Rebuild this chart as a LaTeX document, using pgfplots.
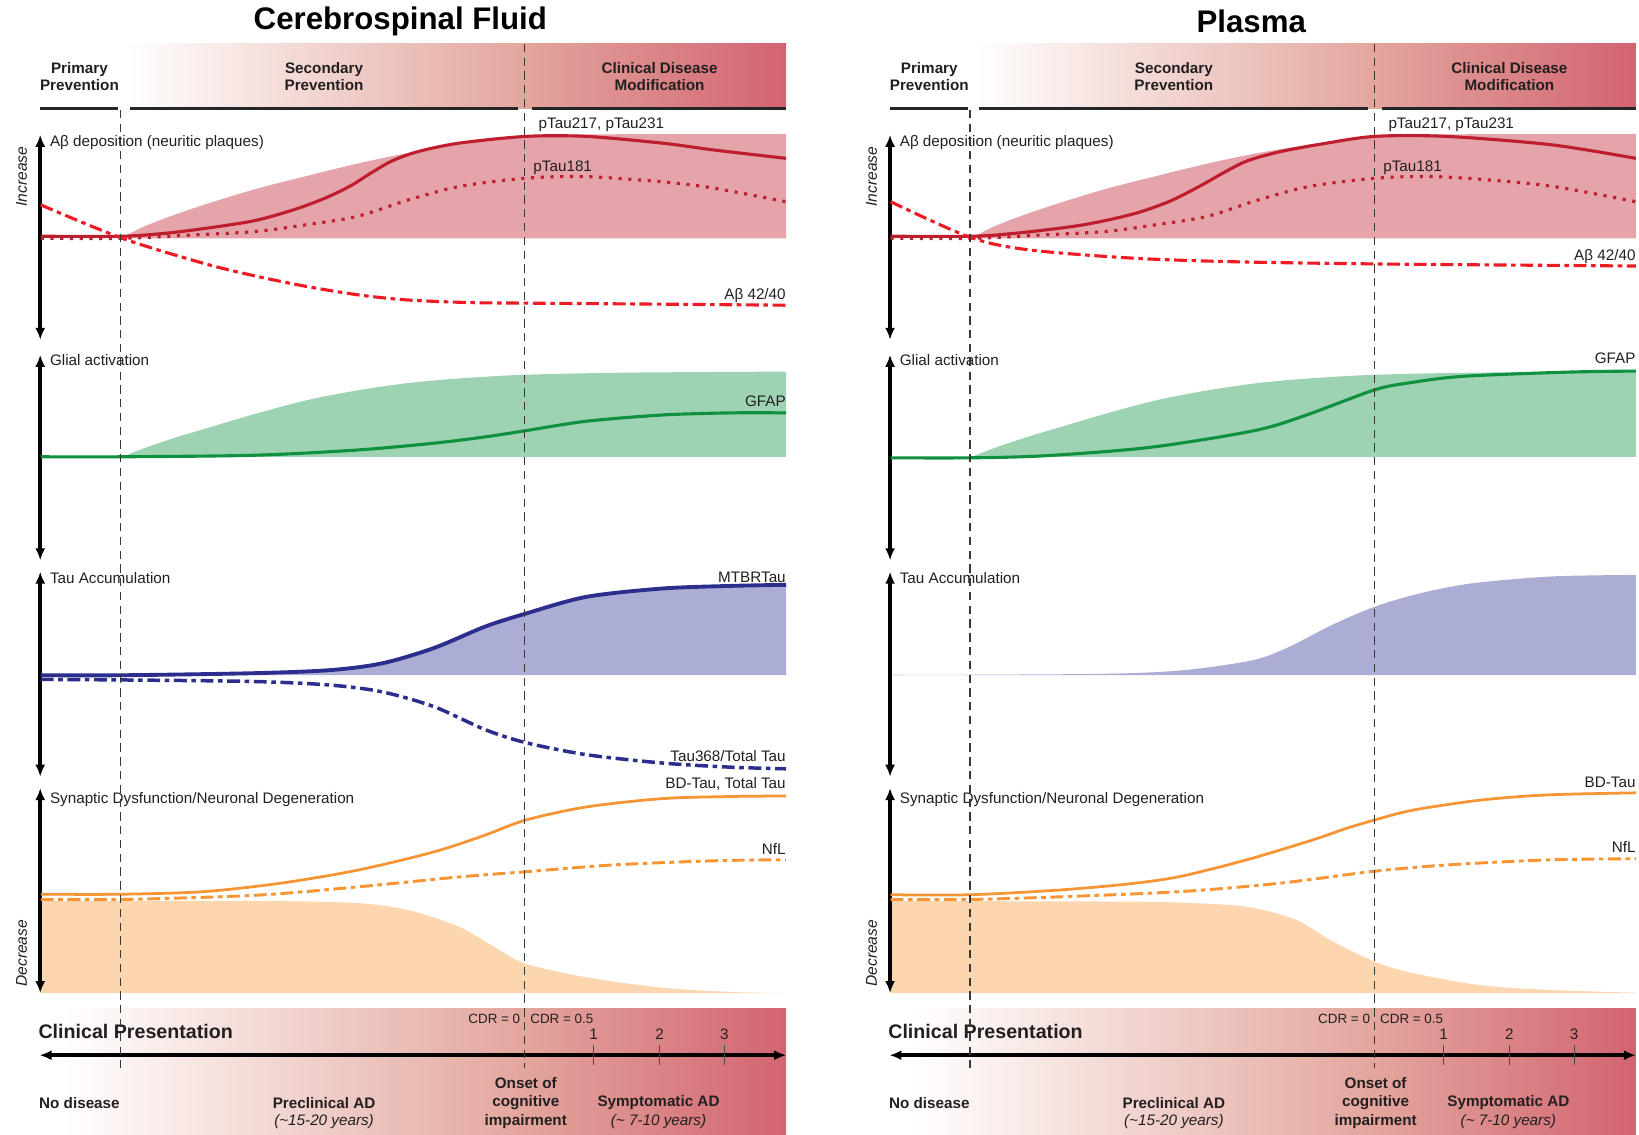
\documentclass[border=0pt]{standalone}
\usepackage{fontspec}
\setmainfont{Liberation Sans}
\usepackage{pgfplots}
\pgfplotsset{compat=1.18}
\usepgfplotslibrary{fillbetween}
\usetikzlibrary{arrows.meta}

\definecolor{txt}{RGB}{35,31,32}
\definecolor{abfill}{RGB}{228,164,170}
\definecolor{ptau}{RGB}{190,30,45}
\definecolor{abred}{RGB}{237,28,36}
\definecolor{gfill}{RGB}{157,211,179}
\definecolor{gline}{RGB}{16,145,64}
\definecolor{bfill}{RGB}{171,173,212}
\definecolor{bline}{RGB}{43,46,140}
\definecolor{oline}{RGB}{247,148,51}
\definecolor{ofill}{RGB}{252,214,175}
\definecolor{bandmid}{RGB}{227,166,157}
\definecolor{bandend}{RGB}{210,100,112}

\newcommand\lab{\fontsize{8.3}{9.8}\selectfont}
\newcommand\hdr{\fontsize{8.3}{9.0}\selectfont\bfseries}
\newcommand\bhdr{\fontsize{8.3}{10.1}\selectfont\bfseries}

\tikzset{
  vguide/.style={color=black!78, line width=0.75pt, dash pattern=on 4.5pt off 3pt},
  dblarrow/.style={black, line width=2.2pt, {Latex[length=6.5pt,width=5.5pt]}-{Latex[length=6.5pt,width=5.5pt]}},
  dashdot/.style={dash pattern=on 7pt off 2.5pt on 2.5pt off 2.5pt},
  tl/.style={inner sep=0pt, text=txt},
}

\pgfplotsset{panel/.style={scale only axis, width=15.68cm, height=21.7cm,
  ymin=0, ymax=1085, y dir=reverse, axis lines=none, ticks=none, clip=false}}

% shared frame: stage bands, stage bars, axis arrows, clinical timeline
\newcommand\Frame[2]{%
  \addplot[draw=none, fill=none] coordinates {(#1,0)(#2,0)(#2,1085)(#1,1085)} -- cycle;
  \addplot[draw=none, left color=white, right color=bandmid] coordinates {(120,41.5)(502,41.5)(502,103.5)(120,103.5)} -- cycle;
  \addplot[draw=none, left color=bandmid, right color=bandend] coordinates {(501.5,41.5)(752,41.5)(752,103.5)(501.5,103.5)} -- cycle;
  \addplot[draw=none, left color=white, right color=bandmid] coordinates {(60,964.5)(502,964.5)(502,1085)(60,1085)} -- cycle;
  \addplot[draw=none, left color=bandmid, right color=bandend] coordinates {(501.5,964.5)(752,964.5)(752,1085)(501.5,1085)} -- cycle;
  \addplot[black!85, line width=1.8pt] coordinates {(38,103.5)(113,103.5)};
  \addplot[black!85, line width=1.8pt] coordinates {(124,103.5)(496,103.5)};
  \addplot[black!85, line width=1.8pt] coordinates {(509,103.5)(752,103.5)};
  \node[tl, align=center, font=\hdr] at (axis cs:76,73) {Primary\\Prevention};
  \node[tl, align=center, font=\hdr] at (axis cs:310,73) {Secondary\\Prevention};
  \node[tl, align=center, font=\hdr] at (axis cs:631,73) {Clinical Disease\\Modification};
  \addplot[dblarrow] coordinates {(38.5,129)(38.5,325)};
  \addplot[dblarrow] coordinates {(38.5,339.5)(38.5,536)};
  \addplot[dblarrow] coordinates {(38.5,547)(38.5,743)};
  \addplot[dblarrow] coordinates {(38.5,754)(38.5,950)};
  \node[tl, rotate=90, font=\fontsize{8.5}{10}\selectfont\itshape] at (axis cs:20.7,169) {Increase};
  \node[tl, rotate=90, font=\fontsize{8.5}{10}\selectfont\itshape] at (axis cs:20.7,912) {Decrease};
  \node[tl, anchor=mid west, font=\lab] at (axis cs:47.5,135.5) {Aβ deposition (neuritic plaques)};
  \node[tl, anchor=mid west, font=\lab] at (axis cs:47.5,345) {Glial activation};
  \node[tl, anchor=mid west, font=\lab] at (axis cs:47.5,554) {Tau Accumulation};
  \node[tl, anchor=mid west, font=\lab] at (axis cs:47.5,764) {Synaptic Dysfunction/Neuronal Degeneration};
  \node[tl, anchor=mid west, font=\lab] at (axis cs:515,118) {pTau217, pTau231};
  \node[tl, anchor=mid west, font=\lab] at (axis cs:510,159) {pTau181};
  % clinical timeline
  \addplot[dblarrow] coordinates {(38,1009.5)(752,1009.5)};
  \addplot[black!70, line width=0.6pt] coordinates {(568,1000)(568,1019)};
  \addplot[black!70, line width=0.6pt] coordinates {(631,1000)(631,1019)};
  \addplot[black!70, line width=0.6pt] coordinates {(693,1000)(693,1019)};
  \node[tl, font=\lab] at (axis cs:568,989) {1};
  \node[tl, font=\lab] at (axis cs:631,989) {2};
  \node[tl, font=\lab] at (axis cs:693,989) {3};
  \node[tl, anchor=mid east, font=\fontsize{7.3}{8}\selectfont] at (axis cs:498,975) {CDR = 0};
  \node[tl, anchor=mid west, font=\fontsize{7.3}{8}\selectfont] at (axis cs:507,975) {CDR = 0.5};
  \node[tl, anchor=mid west, font=\fontsize{10.7}{12}\selectfont\bfseries] at (axis cs:36.5,988.5) {Clinical Presentation};
  \node[tl, font=\bhdr] at (axis cs:76,1055) {No disease};
  \node[tl, font=\bhdr] at (axis cs:310,1055) {Preclinical AD};
  \node[tl, font=\fontsize{8.3}{9.7}\selectfont\itshape] at (axis cs:310,1072.5) {(\textasciitilde15-20 years)};
  \node[tl, align=center, font=\bhdr] at (axis cs:503,1055) {Onset of\\cognitive\\impairment};
  \node[tl, font=\bhdr] at (axis cs:630,1055) {Symptomatic AD};
  \node[tl, font=\fontsize{8.3}{9.7}\selectfont\itshape] at (axis cs:630,1072.5) {(\textasciitilde\ 7-10 years)};
}

% stage boundaries, drawn over everything else
\newcommand\Guides{%
  \addplot[vguide] coordinates {(115,105)(115,1022)};
  \addplot[vguide] coordinates {(502,42)(502,1022)};
}

% baselines of the shaded areas
\newcommand\Bases{%
  \addplot[draw=none, name path=abbase] coordinates {(117,228)(752,228)};
  \addplot[draw=none, name path=gbase] coordinates {(117,437)(752,437)};
  \addplot[draw=none, name path=tbase] coordinates {(39,646)(752,646)};
  \addplot[draw=none, name path=obase] coordinates {(39,950)(752,950)};
}

% upper edges of the amyloid and glial ranges (same in both fluids)
\newcommand\RangeFills{%
  \addplot[draw=none, smooth, name path=abtop] coordinates {(117,227.5)(135,218)(160,208)(195,196)(244,181)(293,168.5)(342,156.5)(390,146.5)(439,138.5)(503,130)(580,128.5)(752,128.2)};
  \addplot[abfill, draw=none] fill between[of=abtop and abbase];
  \addplot[draw=none, smooth, name path=gtop] coordinates {(117,437)(140,428)(170,418)(200,409)(244,396)(293,383)(342,373.5)(390,366.5)(440,362)(503,358.5)(600,356.5)(752,355.5)};
  \addplot[gfill, draw=none] fill between[of=gtop and gbase];
  \addplot[ptau, line width=1.7pt, smooth, dash pattern=on 1.7pt off 3.6pt] coordinates {(39,228)(117,228)(180,225)(244,221.5)(293,215)(342,207)(390,191.5)(439,178.5)(503,170.5)(561,169)(634,174)(683,180)(752,193)};
}

\begin{document}
\begin{tikzpicture}

%% ---------------- Cerebrospinal fluid ----------------
\begin{axis}[panel, xmin=0, xmax=784, at={(0,0)}]
\Frame{0}{784}
\Bases
\node[tl, font=\fontsize{17}{20}\selectfont\bfseries, text=black] at (axis cs:383,20.5) {Cerebrospinal Fluid};

% amyloid / phospho-tau
\RangeFills
\addplot[ptau, line width=1.7pt, smooth] coordinates {(39,226)(117,226)(160,223)(200,218)(244,211)(280,201)(310,190)(335,178)(355,165.5)(375,154)(400,145)(439,137)(503,130.5)(561,130.5)(634,137)(683,143.5)(752,151.5)};
\addplot[abred, line width=1.7pt, smooth, dashdot] coordinates {(39,196)(117,228)(195,252)(244,264)(293,274)(342,282)(390,287)(450,289.5)(503,290)(634,291)(752,292)};
\node[tl, anchor=mid east, font=\lab] at (axis cs:752,282) {Aβ 42/40};

% glial activation
\addplot[gline, line width=1.7pt, smooth] coordinates {(39,437)(117,437)(244,435.5)(342,430.5)(415,424)(464,418)(503,412)(561,403)(634,397)(700,395)(752,395)};
\node[tl, anchor=mid east, font=\lab] at (axis cs:752,384) {GFAP};

% tau
\addplot[draw=none, smooth, name path=ttop] coordinates {(39,646)(117,646)(244,644)(317,641)(366,634.5)(415,620)(464,599.5)(503,587)(561,571)(634,563)(700,560.5)(752,559.5)};
\addplot[bfill, draw=none] fill between[of=ttop and tbase];
\addplot[bline, line width=2.1pt, smooth] coordinates {(39,646)(117,646)(244,644)(317,641)(366,634.5)(415,620)(464,599.5)(503,587)(561,571)(634,563)(700,560.5)(752,559.5)};
\addplot[bline, line width=1.9pt, smooth, dashdot] coordinates {(39,650)(117,650.5)(244,652)(317,655.5)(366,662)(415,676)(464,698)(503,710.5)(561,722)(634,730)(700,734)(752,735.5)};
\node[tl, anchor=mid east, font=\lab] at (axis cs:752,553) {MTBRTau};
\node[tl, anchor=mid east, font=\lab] at (axis cs:752,724) {Tau368/Total Tau};

% neurodegeneration
\addplot[draw=none, smooth, name path=otop] coordinates {(39,862)(250,862)(342,864)(390,870.5)(439,886.5)(473,906)(503,922)(561,935)(634,945)(700,949)(752,950)};
\addplot[ofill, draw=none] fill between[of=otop and obase];
\addplot[oline, line width=1.5pt, smooth] coordinates {(39,855.5)(117,855.5)(195,853)(268,845)(342,832.5)(415,815)(464,799)(503,784.5)(561,772)(634,764)(700,762)(752,761.5)};
\addplot[oline, line width=1.6pt, smooth, dashdot] coordinates {(39,860.5)(117,860.5)(244,856.5)(342,848.5)(439,839)(503,834)(586,827.5)(683,823.5)(752,822.5)};
\node[tl, anchor=mid east, font=\lab] at (axis cs:752,749.5) {BD-Tau, Total Tau};
\node[tl, anchor=mid east, font=\lab] at (axis cs:752,813) {NfL};

\Guides
\end{axis}

%% ---------------- Plasma ----------------
\begin{axis}[panel, xmin=-29, xmax=755, at={(15.68cm,0)}]
\Frame{-29}{755}
\Bases
\node[tl, font=\fontsize{17}{20}\selectfont\bfseries, text=black] at (axis cs:384,20.5) {Plasma};

% amyloid / phospho-tau
\RangeFills
\addplot[ptau, line width=1.7pt, smooth] coordinates {(39,226)(117,226)(160,223)(221,215.5)(270,205)(305,193)(335,178)(358,165)(380,154)(410,145.5)(450,138)(502,130.5)(571,130.5)(671,138.5)(752,151.5)};
\addplot[abred, line width=1.7pt, smooth, dashdot] coordinates {(39,193)(115,227)(171,239)(271,247)(371,250.5)(502,252.5)(621,253.5)(752,254.5)};
\node[tl, anchor=mid east, font=\lab] at (axis cs:752,245) {Aβ 42/40};

% glial activation
\addplot[gline, line width=1.7pt, smooth] coordinates {(39,438)(115,438)(187,436)(287,428)(387,412)(437,397)(502,373)(537,366)(587,360)(687,356)(752,355)};
\node[tl, anchor=mid east, font=\lab] at (axis cs:752,343) {GFAP};

% tau
\addplot[draw=none, smooth, name path=ttop] coordinates {(39,645.5)(115,645.5)(250,644.5)(321,641)(386,631.5)(421,618.5)(461,598)(502,580.5)(546,567.5)(596,558)(671,551.5)(752,550)};
\addplot[bfill, draw=none] fill between[of=ttop and tbase];

% neurodegeneration
\addplot[draw=none, smooth, name path=otop] coordinates {(39,862)(250,862.5)(316,863.5)(380,867.5)(427,880)(459,899)(502,920)(539,931)(603,942.5)(667,947)(752,949.7)};
\addplot[ofill, draw=none] fill between[of=otop and obase];
\addplot[oline, line width=1.5pt, smooth] coordinates {(39,856)(115,856)(200,851.5)(268,845.5)(316,838.5)(380,822.5)(443,803.5)(475,792.5)(502,784.5)(539,775)(603,765.5)(667,760.5)(752,758.5)};
\addplot[oline, line width=1.6pt, smooth, dashdot] coordinates {(39,860.5)(115,860.5)(200,858)(316,853)(411,845)(502,833.5)(571,827.5)(667,822.7)(752,821.5)};
\node[tl, anchor=mid east, font=\lab] at (axis cs:752,749) {BD-Tau};
\node[tl, anchor=mid east, font=\lab] at (axis cs:752,811) {NfL};

\Guides
\end{axis}
\end{tikzpicture}
\end{document}
